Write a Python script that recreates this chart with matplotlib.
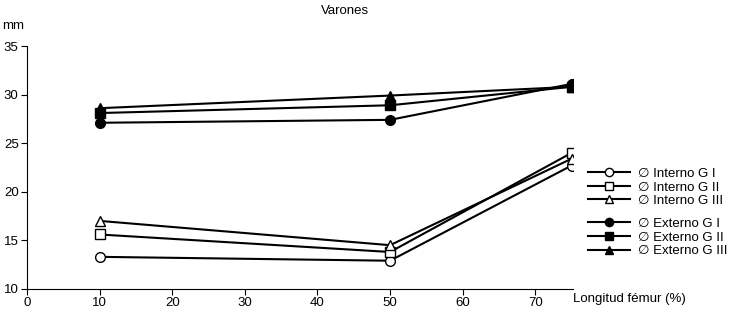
import matplotlib
matplotlib.use("Agg")
import matplotlib.pyplot as plt

plt.rcParams['font.family'] = ['Liberation Sans', 'DejaVu Sans']

x = [10, 50, 75]
interno_g1 = [13.3, 12.9, 22.7]
interno_g2 = [15.6, 13.8, 24.0]
interno_g3 = [17.0, 14.5, 23.4]
externo_g1 = [27.1, 27.4, 31.1]
externo_g2 = [28.1, 28.9, 30.8]
externo_g3 = [28.6, 29.9, 30.8]

labels_int = ['\u2205 Interno G I', '\u2205 Interno G II', '\u2205 Interno G III']
labels_ext = ['\u2205 Externo G I', '\u2205 Externo G II', '\u2205 Externo G III']
markers = ['o', 's', '^']

fig = plt.figure(figsize=(7.3, 3.13), dpi=100)
ax = fig.add_axes([0.037, 0.077, 0.748, 0.776])

h_int = []
for ys, m, lab in zip([interno_g1, interno_g2, interno_g3], markers, labels_int):
    h, = ax.plot(x, ys, color='black', lw=1.5, marker=m, markersize=7,
                 markerfacecolor='white', markeredgecolor='black', markeredgewidth=1, label=lab)
    h_int.append(h)
h_ext = []
for ys, m, lab in zip([externo_g1, externo_g2, externo_g3], markers, labels_ext):
    h, = ax.plot(x, ys, color='black', lw=1.5, marker=m, markersize=7,
                 markerfacecolor='black', markeredgecolor='black', label=lab)
    h_ext.append(h)

ax.set_xlim(0, 75.2)
ax.set_ylim(10, 35)
ax.set_xticks(range(0, 71, 10))
ax.set_yticks(range(10, 36, 5))
ax.spines['top'].set_visible(False)
ax.spines['right'].set_visible(False)
ax.tick_params(labelsize=9.5, length=4, width=0.8, pad=2)
for s in ['left', 'bottom']:
    ax.spines[s].set_linewidth(0.8)

fig.text(0.473, 0.966, 'Varones', fontsize=9.5, ha='center', va='center')
fig.text(0.003, 0.917, 'mm', fontsize=9.5, va='center')
fig.text(0.785, 0.044, 'Longitud f\u00e9mur (%)', fontsize=9.5, va='center')

leg_kw = dict(loc='upper left', frameon=False, fontsize=9.5, handlelength=3.2, markerscale=0.85,
              labelspacing=0.1, borderaxespad=0, borderpad=0, handletextpad=0.6)
fig.legend(handles=h_int, bbox_to_anchor=(0.805, 0.464), **leg_kw)
fig.legend(handles=h_ext, bbox_to_anchor=(0.805, 0.304), **leg_kw)

fig.savefig('out.png', dpi=100)
